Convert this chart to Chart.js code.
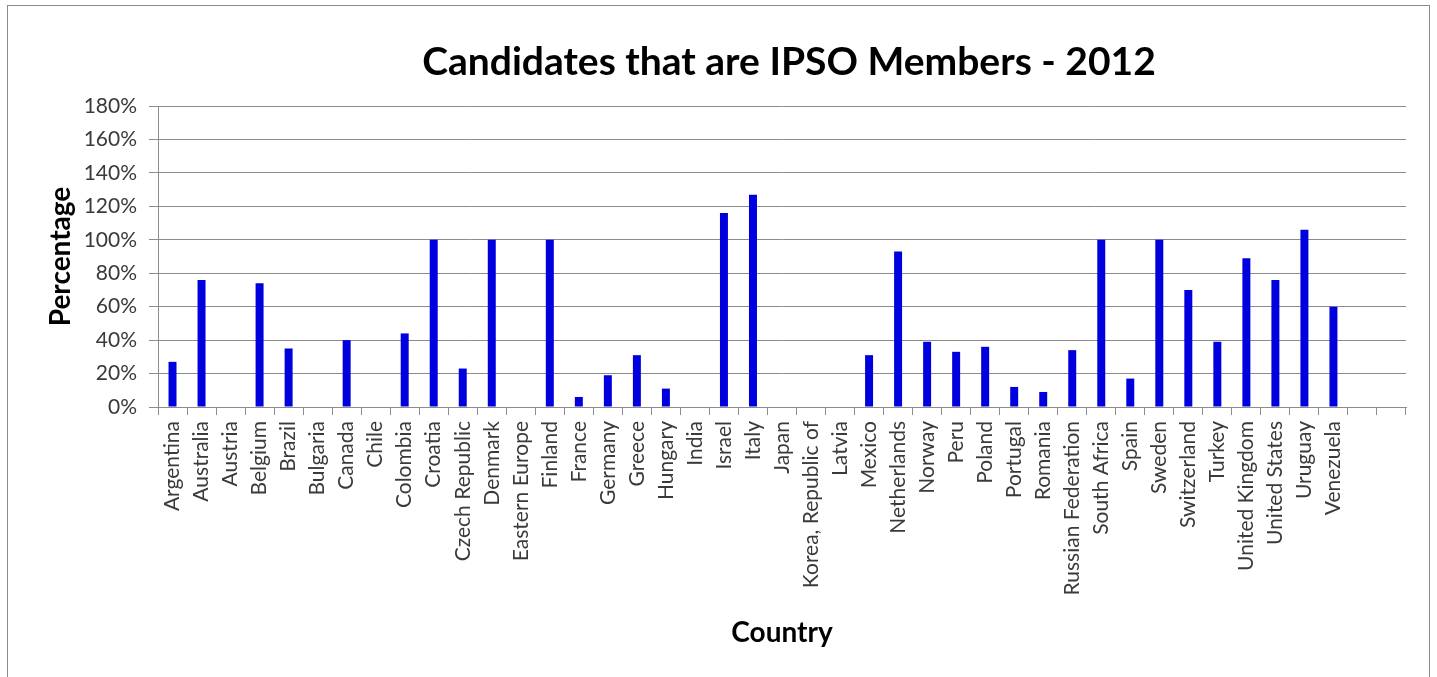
<!DOCTYPE html>
<html>
<head>
<meta charset="utf-8">
<script src="https://cdn.jsdelivr.net/npm/chart.js@4"></script>
<style>
  html, body { margin: 0; padding: 0; background: #fff; }
  #wrap { position: relative; width: 1437px; height: 677px; overflow: hidden; }
  #frame { position: absolute; left: 7px; top: 5px; width: 1423px; height: 700px; border: 1px solid #8a8a8a; box-sizing: border-box; }
  #chart { position: absolute; left: 0; top: 0; }
</style>
</head>
<body>
<div id="wrap">
  <div id="frame"></div>
  <canvas id="chart" width="1437" height="677"></canvas>
</div>
<script>
// country list, two empty slots at the end like the excel sheet
const countries = [
  'Argentina', 'Australia', 'Austria', 'Belgium', 'Brazil', 'Bulgaria', 'Canada', 'Chile',
  'Colombia', 'Croatia', 'Czech Republic', 'Denmark', 'Eastern Europe', 'Finland', 'France',
  'Germany', 'Greece', 'Hungary', 'India', 'Israel', 'Italy', 'Japan', 'Korea, Republic of',
  'Latvia', 'Mexico', 'Netherlands', 'Norway', 'Peru', 'Poland', 'Portugal', 'Romania',
  'Russian Federation', 'South Africa', 'Spain', 'Sweden', 'Switzerland', 'Turkey',
  'United Kingdom', 'United States', 'Uruguay', 'Venezuela', '', ''
];

// percentage of candidates
const memberPct = [
  27, 76, 0, 74, 35, 0, 40, 0,
  44, 100, 23, 100, 0, 100, 6,
  19, 31, 11, 0, 116, 127, 0, 0,
  0, 31, 93, 39, 33, 36, 12, 9,
  34, 100, 17, 100, 70, 39,
  89, 76, 106, 60, null, null
];

const yTicks = [0, 20, 40, 60, 80, 100, 120, 140, 160, 180];

const FONT = 'Lato, "Open Sans", sans-serif';

// title drawn over the plot centre (excel centres it a bit right of the canvas)
const titlePlugin = {
    id: 'topTitle',
    afterDraw(chart) {
        const { ctx, chartArea } = chart;
        ctx.save();
        ctx.font = 'bold 39px ' + FONT;
        ctx.fillStyle = '#000';
        ctx.textAlign = 'center';
        ctx.textBaseline = 'middle';
        ctx.fillText('Candidates that are IPSO Members - 2012', (chartArea.left + chartArea.right) / 2 + 7, 62);
        ctx.restore();
    }
};

new Chart(document.getElementById('chart'), {
    type: 'bar',
    data: {
        labels: countries,
        datasets: [{
            label: 'Members',
            data: memberPct,
            backgroundColor: 'rgb(0, 0, 222)',
            borderWidth: 0,
            barPercentage: 0.55,
            categoryPercentage: 0.5
        }]
    },
    options: {
        responsive: false,
        animation: false,
        events: [],
        layout: { padding: { left: 40, right: 31, top: 106, bottom: 0 } },
        plugins: {
            legend: { display: false },
            tooltip: { enabled: false }
        },
        scales: {
            y: {
                min: 0,
                max: 180,
                afterFit(scale) { scale.width = 118; },
                afterBuildTicks(scale) { scale.ticks = yTicks.map(v => ({ value: v })); },
                ticks: {
                    padding: 12,
                    color: '#3a3a3a',
                    font: { family: FONT, size: 21 },
                    callback: v => v + '%'
                },
                grid: { color: '#8c8c8c', lineWidth: 1, tickLength: 9 },
                border: { color: '#8c8c8c' },
                title: {
                    display: true,
                    text: 'Percentage',
                    color: '#000',
                    padding: { top: 4, bottom: 0 },
                    font: { family: FONT, size: 28, weight: 'bold' }
                }
            },
            x: {
                afterFit(scale) { scale.height = 270; },
                ticks: {
                    autoSkip: false,
                    minRotation: 90,
                    maxRotation: 90,
                    padding: 6,
                    color: '#3a3a3a',
                    font: { family: FONT, size: 21 }
                },
                grid: { offset: true, drawOnChartArea: false, color: '#8c8c8c', tickLength: 8 },
                border: { color: '#8c8c8c' },
                title: {
                    display: true,
                    text: 'Country',
                    color: '#000',
                    padding: { top: 0, bottom: 27 },
                    font: { family: FONT, size: 28, weight: 'bold' }
                }
            }
        }
    },
    plugins: [titlePlugin]
});
</script>
</body>
</html>
